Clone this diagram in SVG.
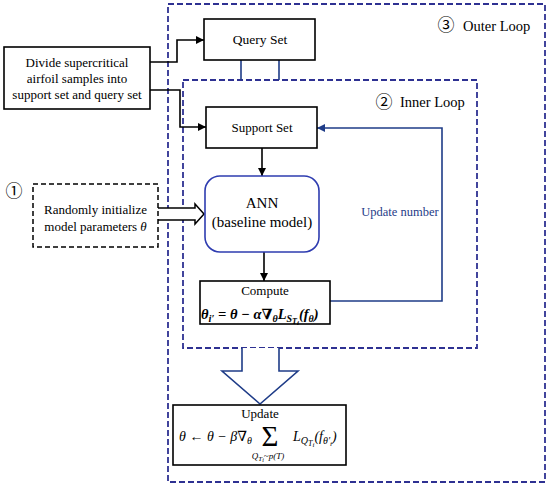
<svg xmlns="http://www.w3.org/2000/svg" width="550" height="487" viewBox="0 0 550 487">
<style>
.t{font-family:"Liberation Serif","DejaVu Serif",serif;fill:#000}
.c{text-anchor:middle}
.box{fill:#fff;stroke:#000;stroke-width:1.6}
.loop{fill:none;stroke:#2e3192;stroke-width:1.8;stroke-dasharray:6 3}
.blk{fill:none;stroke:#000;stroke-width:1.6}
.nav{fill:none;stroke:#1f3c88;stroke-width:1.6}
.m{font-family:"Liberation Serif","DejaVu Serif",serif;font-style:italic;fill:#000}
.circ{font-family:"Noto Sans CJK SC","DejaVu Sans",sans-serif;font-weight:normal;fill:#000;text-anchor:middle}
</style>
<defs>
<marker id="ah" viewBox="0 0 10 10" refX="10" refY="5" markerWidth="8" markerHeight="8" markerUnits="userSpaceOnUse" orient="auto"><path d="M0,0 L10,5 L0,10 z" fill="#000"/></marker>
<marker id="ahb" viewBox="0 0 10 10" refX="10" refY="5" markerWidth="8" markerHeight="8" markerUnits="userSpaceOnUse" orient="auto"><path d="M0,0 L10,5 L0,10 z" fill="#1f3c88"/></marker>
</defs>
<rect width="550" height="487" fill="#fff"/>

<g id="outer-loop">
<rect class="loop" x="168" y="4" width="377" height="478"/>
<text class="circ" x="446" y="31" font-size="17">③</text>
<text class="t" x="463" y="31" font-size="14.5">Outer Loop</text>
</g>
<g id="inner-loop">
<rect class="loop" x="183" y="80" width="294" height="268"/>
<text class="circ" x="384" y="108" font-size="17">②</text>
<text class="t" x="400" y="107" font-size="14.5">Inner Loop</text>
</g>

<g id="connectors">
<path class="blk" d="M150,62 H177 V40 H204" marker-end="url(#ah)"/>
<path class="blk" d="M150,90 H180 V127 H206" marker-end="url(#ah)"/>
<path class="nav" d="M241,60 V80 M279,60 V80"/>
<path class="blk" d="M262,148 V176" marker-end="url(#ah)"/>
<path class="blk" d="M264,252 V281" marker-end="url(#ah)"/>
<path class="nav" d="M330,301 H442 V128 H317" marker-end="url(#ahb)"/>
<path d="M157,208 H195 V204 L204,214 L195,224 V220 H157" fill="#fff" stroke="#000" stroke-width="1.5"/>
<path d="M242,348 V371 H222 L260,404 L298,371 H279 V348" fill="#fff" stroke="#1f3c88" stroke-width="1.6"/>
<text class="t c" x="400" y="216" font-size="12.5" style="fill:#1f3c88">Update number</text>
</g>

<g id="divide">
<rect class="box" x="4" y="47" width="146" height="62"/>
<text class="t c" x="77" y="67" font-size="13">Divide supercritical</text>
<text class="t c" x="77" y="83" font-size="13">airfoil samples into</text>
<text class="t c" x="77" y="99" font-size="13">support set and query set</text>
</g>

<g id="query-set">
<rect class="box" x="204" y="19" width="111" height="41"/>
<text class="t c" x="260" y="44" font-size="13.5">Query Set</text>
</g>

<g id="support-set">
<rect class="box" x="206" y="107" width="111" height="41"/>
<text class="t c" x="262" y="132" font-size="13">Support Set</text>
</g>

<g id="init">
<text class="circ" x="14" y="197" font-size="17">①</text>
<rect x="33" y="184" width="125" height="63" fill="#fff" stroke="#000" stroke-width="1.5" stroke-dasharray="5 3"/>
<text class="t c" x="95.5" y="213.5" font-size="13">Randomly initialize</text>
<text class="t c" x="95.5" y="230.5" font-size="13">model parameters <tspan font-style="italic">θ</tspan></text>
</g>

<g id="ann">
<rect x="205" y="176" width="114" height="76" rx="15" fill="#fff" stroke="#2e3cb0" stroke-width="1.6"/>
<text class="t c" x="262" y="208" font-size="15">ANN</text>
<text class="t c" x="262" y="227" font-size="15">(baseline model)</text>
</g>

<g id="compute">
<rect class="box" x="200" y="281" width="130" height="43"/>
<text class="t c" x="265" y="295" font-size="13">Compute</text>
<text class="m" x="201" y="319" font-size="14.5" font-weight="bold">θ<tspan dy="3" font-size="10.5">i′</tspan><tspan dy="-3"> = θ − α∇</tspan><tspan dy="3" font-size="10">θ</tspan><tspan dy="-3">L</tspan><tspan dy="3" font-size="10">S</tspan><tspan dy="2" font-size="8">T</tspan><tspan dy="1" font-size="7">i</tspan><tspan dy="-6">(f</tspan><tspan dy="3" font-size="10">θ</tspan><tspan dy="-3">)</tspan></text>
</g>

<g id="update">
<rect class="box" x="173" y="405" width="173" height="60"/>
<text class="t c" x="260" y="418" font-size="13">Update</text>
<text class="m" x="179" y="441" font-size="14">θ ← θ − β∇<tspan dy="3" font-size="10">θ</tspan></text>
<text class="t c" x="270" y="446" font-size="29">Σ</text>
<text class="m c" x="268" y="459" font-size="9">Q<tspan dy="2" font-size="7">T</tspan><tspan dy="1" font-size="6">i</tspan><tspan dy="-3">~p(T)</tspan></text>
<text class="m" x="293" y="441" font-size="14">L<tspan dy="3" font-size="10">Q</tspan><tspan dy="2" font-size="8">T</tspan><tspan dy="1" font-size="7">i</tspan><tspan dy="-6">(f</tspan><tspan dy="3" font-size="10">θ′</tspan><tspan dy="2" font-size="7">i</tspan><tspan dy="-5">)</tspan></text>
</g>
</svg>
